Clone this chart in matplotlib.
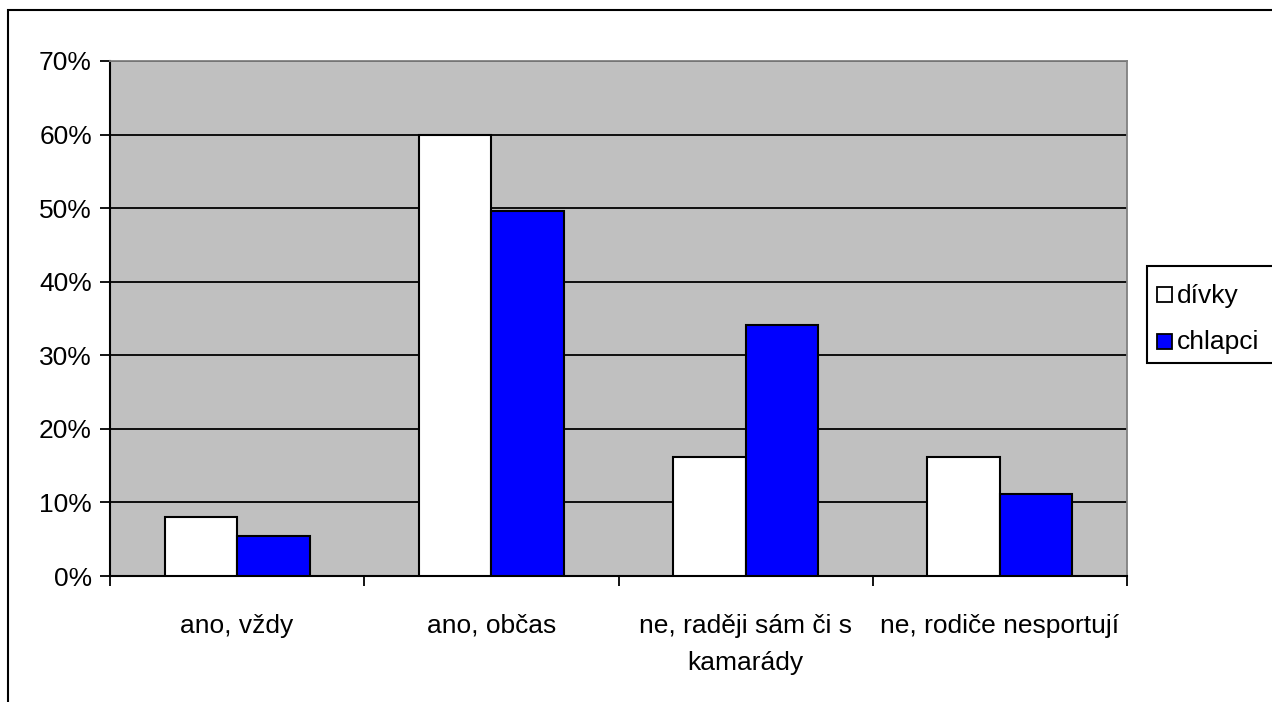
import matplotlib
matplotlib.use("Agg")
import matplotlib.pyplot as plt
from matplotlib.patches import Rectangle
import numpy as np

plt.rcParams['font.family'] = ['Liberation Sans', 'DejaVu Sans']

categories = ["ano, vždy", "ano, občas", "ne, raději sám či s\nkamarády", "ne, rodiče nesportují"]
divky = [8.0, 60.0, 16.2, 16.2]
chlapci = [5.5, 49.6, 34.1, 11.2]
series_names = ["dívky", "chlapci"]
series_colors = ["white", "#0000FF"]
yticks = [0, 10, 20, 30, 40, 50, 60, 70]

W, H = 1272, 702
FS = 19
fig = plt.figure(figsize=(W / 100, H / 100), dpi=100)


def fx(px):
    return px / W


def fy(py):
    return 1 - py / H


# outer chart border (left and top visible)
fig.patches.append(Rectangle((fx(8), -0.1), 1.2, fy(10) + 0.1, transform=fig.transFigure,
                             fill=False, edgecolor='black', linewidth=1.5, zorder=0))

ax = fig.add_axes([fx(110), fy(576), fx(1127 - 110), (576 - 61) / H])
ax.set_facecolor('#C0C0C0')

x = np.arange(len(categories))
bw = 0.285
ax.bar(x - bw / 2, divky, width=bw, color=series_colors[0], edgecolor='black', linewidth=1.5, zorder=3)
ax.bar(x + bw / 2, chlapci, width=bw, color=series_colors[1], edgecolor='black', linewidth=1.5, zorder=3)

ax.set_xlim(-0.5, len(categories) - 0.5)
ax.set_ylim(0, 70)
ax.set_yticks(yticks)
ax.set_yticklabels([f"{v}%" for v in yticks], fontsize=FS)
ax.yaxis.grid(True, color='black', linewidth=1.3, zorder=1)
ax.set_axisbelow(True)

ax.set_xticks(np.arange(-0.5, len(categories), 1.0))
ax.set_xticklabels([])
ax.set_xticks(x, minor=True)
ax.set_xticklabels(categories, minor=True, fontsize=FS, linespacing=1.72)
ax.tick_params(axis='x', which='minor', length=0, pad=27)
ax.tick_params(axis='x', which='major', length=7, width=1.3, color='black')
ax.tick_params(axis='y', length=7, width=1.3, color='black', pad=6)

for s in ['top', 'right']:
    ax.spines[s].set_color('#808080')
    ax.spines[s].set_linewidth(1.3)
for s in ['left', 'bottom']:
    ax.spines[s].set_color('black')
    ax.spines[s].set_linewidth(1.5)

# legend box
fig.patches.append(Rectangle((fx(1147), fy(363)), fx(1300 - 1147), (363 - 266) / H,
                             transform=fig.transFigure, facecolor='white',
                             edgecolor='black', linewidth=1.5, zorder=5))
for i, (name, col) in enumerate(zip(series_names, series_colors)):
    cy = 294.5 + i * 46.5
    fig.patches.append(Rectangle((fx(1157), fy(cy + 7.5)), fx(15), 15 / H,
                                 transform=fig.transFigure, facecolor=col,
                                 edgecolor='black', linewidth=1.3, zorder=6))
    fig.text(fx(1177), fy(cy + 1), name, fontsize=FS, va='center', ha='left', zorder=7)

fig.savefig("out.png", dpi=100, facecolor='white')
